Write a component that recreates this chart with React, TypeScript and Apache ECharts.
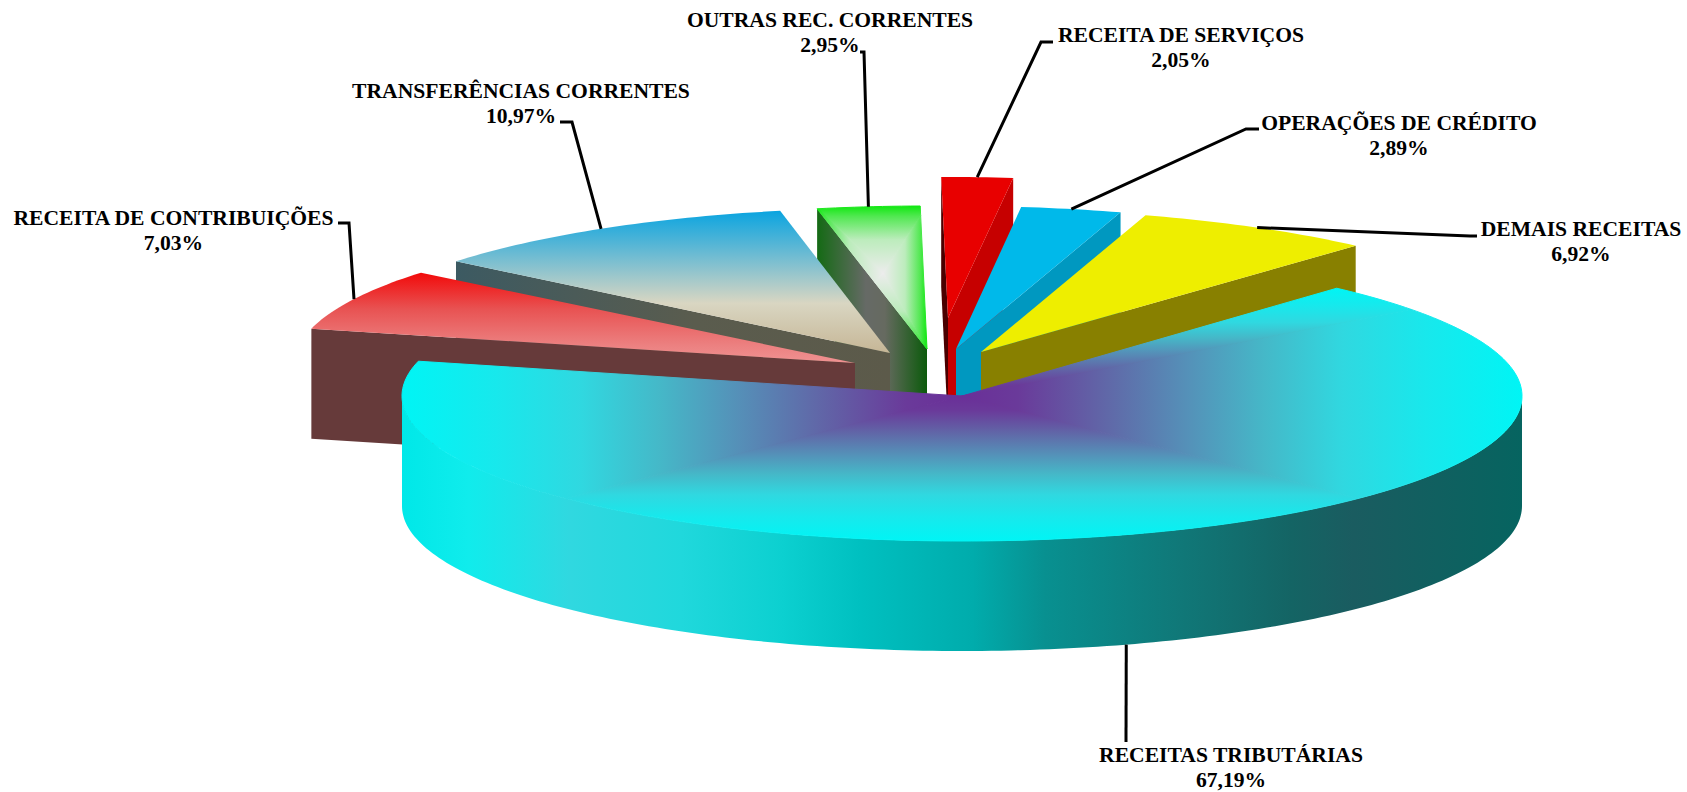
import React, { useEffect, useRef } from "react";
import * as echarts from "echarts";

// ---- data, counter-clockwise from the first slice
const names = [
  "DEMAIS RECEITAS",
  "OPERAÇÕES DE CRÉDITO",
  "RECEITA DE SERVIÇOS",
  "OUTRAS REC. CORRENTES",
  "TRANSFERÊNCIAS CORRENTES",
  "RECEITA DE CONTRIBUIÇÕES",
  "RECEITAS TRIBUTÁRIAS",
];
const values = [6.92, 2.89, 2.05, 2.95, 10.97, 7.03, 67.19];

// ---- layout
const W = 1687;
const H = 792;
const START_ANGLE = 48;
const CX = 962;
const CY = 396;
const RX = 560;
const DEPTH = 110;
const MAIN_UP_EXTENT = 108; // the top of the large slice's gradient box
const explodeX = [19, -6, -14, -35, -72, -107, 0];
const explodeY = [-44, -47, -78, -47, -43, -33, 0];
const radiiY = [143, 143, 141, 143, 145, 143, 145];
const drawRank = [3, 2, 1, 4, 5, 6, 7];
const labelX = [1581, 1399, 1181, 830, 521, 173.5, 1231];
const labelY = [241, 135, 47, 32, 103, 230, 767];
const leaderTails = [
  [[1470, 236], [1477, 236]],
  [[1246, 129], [1259, 129]],
  [[1041, 42], [1053, 42]],
  [[864, 52], [860, 52]],
  [[572, 122], [560, 122]],
  [[349, 223], [338, 223]],
  [[1126, 742]],
];

const hLin = (x1: number, x2: number, stops: [number, string][]) =>
  new echarts.graphic.LinearGradient(
    x1, 0, x2, 0,
    stops.map(([offset, color]) => ({ offset, color })),
    true
  );
const vLin = (y1: number, y2: number, stops: [number, string][]) =>
  new echarts.graphic.LinearGradient(
    0, y1, 0, y2,
    stops.map(([offset, color]) => ({ offset, color })),
    true
  );
const vBox = (stops: [number, string][]) =>
  new echarts.graphic.LinearGradient(
    0, 0, 0, 1,
    stops.map(([offset, color]) => ({ offset, color }))
  );

// colour ramps of the rectangular path gradients (0 = centre, 1 = box edge)
const ramp: [number, string][] = [
  [0, "#6a2f98"],
  [0.1, "#6a3a9a"],
  [0.26, "#6068a8"],
  [0.4, "#5590b8"],
  [0.54, "#45b8c8"],
  [0.68, "#30d8e0"],
  [0.83, "#18e8ec"],
  [1, "#00f5f5"],
];
const greenRamp: [number, string][] = [
  [0, "#ececec"],
  [0.5, "#bcecbc"],
  [0.85, "#50e850"],
  [1, "#10e810"],
];

const topFills: any[] = [
  "#eeee00",
  "#00b9ea",
  "#e80000",
  "rect",
  vBox([
    [0, "#0aa4e0"],
    [0.32, "#70bcd2"],
    [0.65, "#d9d6c2"],
    [1, "#c6b696"],
  ]),
  vBox([
    [0, "#f20a0a"],
    [0.4, "#e85252"],
    [0.8, "#ec8080"],
    [1, "#f09292"],
  ]),
  null,
];
const startWallFills: any[] = ["#888000", "#0098c0", "#c60000", null, null, null, null];
const endWallFills: any[] = [
  null,
  null,
  "#4a0000",
  hLin(816, 927, [
    [0, "#126a12"],
    [0.45, "#666a66"],
    [0.62, "#666a60"],
    [1, "#0b5a0b"],
  ]),
  hLin(455, 890, [
    [0, "#3c5a62"],
    [0.55, "#5a5c4e"],
    [1, "#5c5a4a"],
  ]),
  "#663a3a",
  null,
];
const mainWallFill = hLin(401, 1522, [
  [0, "#00e8e8"],
  [0.06, "#10ecec"],
  [0.15, "#30d8e0"],
  [0.25, "#20d8dc"],
  [0.34, "#0cd0d0"],
  [0.41, "#00c0c0"],
  [0.51, "#00acac"],
  [0.575, "#089090"],
  [0.695, "#107878"],
  [0.795, "#146464"],
  [0.85, "#1a5c60"],
  [1, "#066460"],
]);

const D2R = Math.PI / 180;

function sliceAngles(index: number): [number, number] {
  const total = values.reduce((a, b) => a + b, 0);
  let a = START_ANGLE;
  for (let i = 0; i < index; i++) a += (values[i] / total) * 360;
  return [a, a + (values[index] / total) * 360];
}

function arc(ax: number, ay: number, ry: number, a0: number, a1: number, dy = 0) {
  const pts: number[][] = [];
  const n = Math.max(2, Math.ceil(Math.abs(a1 - a0) / 1));
  for (let k = 0; k <= n; k++) {
    const t = (a0 + ((a1 - a0) * k) / n) * D2R;
    pts.push([ax + RX * Math.cos(t), ay - ry * Math.sin(t) + dy]);
  }
  return pts;
}

// keep the part of a polygon on one side of the line a -> b
function clipHalf(points: number[][], a: number[], b: number[]) {
  const side = (p: number[]) =>
    (b[0] - a[0]) * (p[1] - a[1]) - (b[1] - a[1]) * (p[0] - a[0]);
  const out: number[][] = [];
  for (let i = 0; i < points.length; i++) {
    const p = points[i];
    const q = points[(i + 1) % points.length];
    const sp = side(p);
    const sq = side(q);
    if (sp >= 0) out.push(p);
    if (sp * sq < 0) {
      const u = sp / (sp - sq);
      out.push([p[0] + (q[0] - p[0]) * u, p[1] + (q[1] - p[1]) * u]);
    }
  }
  return out;
}

const poly = (points: number[][], fill: any, z2: number, stroke?: any) => ({
  type: "polygon",
  silent: true,
  z2,
  shape: { points },
  style: stroke
    ? { fill, stroke, lineWidth: 1 }
    : { fill, stroke: "none" },
});

function boxBounds(points: number[][]) {
  const xs = points.map((p) => p[0]);
  const ys = points.map((p) => p[1]);
  return [Math.min(...xs), Math.min(...ys), Math.max(...xs), Math.max(...ys)];
}

function renderSlice(params: any, api: any) {
  const i = params.dataIndex;
  const value = api.value(0);
  const [a0, a1] = sliceAngles(i);
  const ax = CX + explodeX[i];
  const ay = CY + explodeY[i];
  const ry = radiiY[i];
  const z = drawRank[i] * 10;
  const children: any[] = [];
  const r0 = a0 * D2R;
  const r1 = a1 * D2R;
  const p0 = [ax + RX * Math.cos(r0), ay - ry * Math.sin(r0)];
  const p1 = [ax + RX * Math.cos(r1), ay - ry * Math.sin(r1)];

  const quad = (p: number[]) => [
    [ax, ay],
    p,
    [p[0], p[1] + DEPTH],
    [ax, ay + DEPTH],
  ];
  if (Math.cos(r1) < 0 && endWallFills[i])
    children.push(poly(quad(p1), endWallFills[i], z));
  if (Math.cos(r0) > 0 && startWallFills[i])
    children.push(poly(quad(p0), startWallFills[i], z + 1));

  if (topFills[i] === "rect") {
    // rectangular path gradient over the slice's own bounding box
    const face = [[ax, ay], ...arc(ax, ay, ry, a0, a1)];
    const [x0, y0, x1, y1] = boxBounds(face);
    const cx = x0 + (x1 - x0) * 0.6;
    const cy = y0 + (y1 - y0) * 0.47;
    const c = [cx, cy];
    const tl = [x0, y0];
    const tr = [x1, y0];
    const br = [x1, y1];
    const bl = [x0, y1];
    // each side of the box: the triangle towards the centre, clipped from the face
    const sides: [number[], number[], any][] = [
      [tl, tr, vLin(cy, y0, greenRamp)],
      [tr, br, hLin(cx, x1, greenRamp)],
      [br, bl, vLin(cy, y1, greenRamp)],
      [bl, tl, hLin(cx, x0, greenRamp)],
    ];
    for (const [u, v, g] of sides) {
      const part = clipHalf(clipHalf(face, c, u), v, c);
      if (part.length > 2) children.push(poly(part, g, z + 2, g));
    }
  } else if (topFills[i]) {
    children.push(poly([[ax, ay], ...arc(ax, ay, ry, a0, a1)], topFills[i], z + 2));
  } else {
    // outer wall, front half only
    const top = arc(ax, ay, ry, 180, 360);
    const bottom = arc(ax, ay, ry, 360, 180, DEPTH);
    children.push(poly([...top, ...bottom], mainWallFill, z));
    // top face: a rectangular path gradient, one linear ramp per side of the box
    const left = hLin(ax, ax - RX, ramp);
    const right = hLin(ax, ax + RX, ramp);
    const down = vLin(ay, ay + ry, ramp);
    const up = vLin(ay, ay - MAIN_UP_EXTENT, ramp);
    // the box's upper diagonal, in the slice's angle parametrisation
    const seam = 360 + Math.atan2(MAIN_UP_EXTENT, ry) / D2R;
    const parts: [number, number, any][] = [
      [a0, 225, left],
      [225, 315, down],
      [315, seam, right],
      [seam, a1, up],
    ];
    for (const [b0, b1, g] of parts) {
      children.push(poly([[ax, ay], ...arc(ax, ay, ry, b0, b1)], g, z + 2, g));
    }
  }

  // leader line starts on the slice's rim at its middle angle
  const mid = ((a0 + a1) / 2) * D2R;
  const onFront = Math.sin(mid) < 0;
  const anchor = [
    ax + RX * Math.cos(mid),
    ay - ry * Math.sin(mid) + (onFront ? DEPTH : 0),
  ];
  children.push({
    type: "polyline",
    silent: true,
    z2: 200,
    shape: { points: [anchor, ...leaderTails[i]] },
    style: { fill: "none", stroke: "#000000", lineWidth: 3 },
  });
  children.push({
    type: "text",
    silent: true,
    z2: 201,
    style: {
      x: labelX[i],
      y: labelY[i],
      text: `${names[i]}\n${value.toFixed(2).replace(".", ",")}%`,
      fill: "#000000",
      align: "center",
      verticalAlign: "middle",
      lineHeight: 25,
      fontFamily: "'Liberation Serif', serif",
      fontWeight: "bold",
      fontSize: 21.6,
    },
  });
  return { type: "group", children };
}

export default function App() {
  const ref = useRef<HTMLDivElement>(null);
  useEffect(() => {
    const chart = echarts.init(ref.current!, undefined, { renderer: "svg" });
    chart.setOption({
      animation: false,
      backgroundColor: "#ffffff",
      series: [
        {
          type: "custom",
          coordinateSystem: "none",
          silent: true,
          renderItem: renderSlice,
          data: values.map((v, i) => ({ name: names[i], value: [v] })),
        },
      ],
    });
    return () => chart.dispose();
  }, []);
  return (
    <div
      ref={ref}
      style={{ position: "absolute", left: 0, top: 0, width: W, height: H }}
    />
  );
}
